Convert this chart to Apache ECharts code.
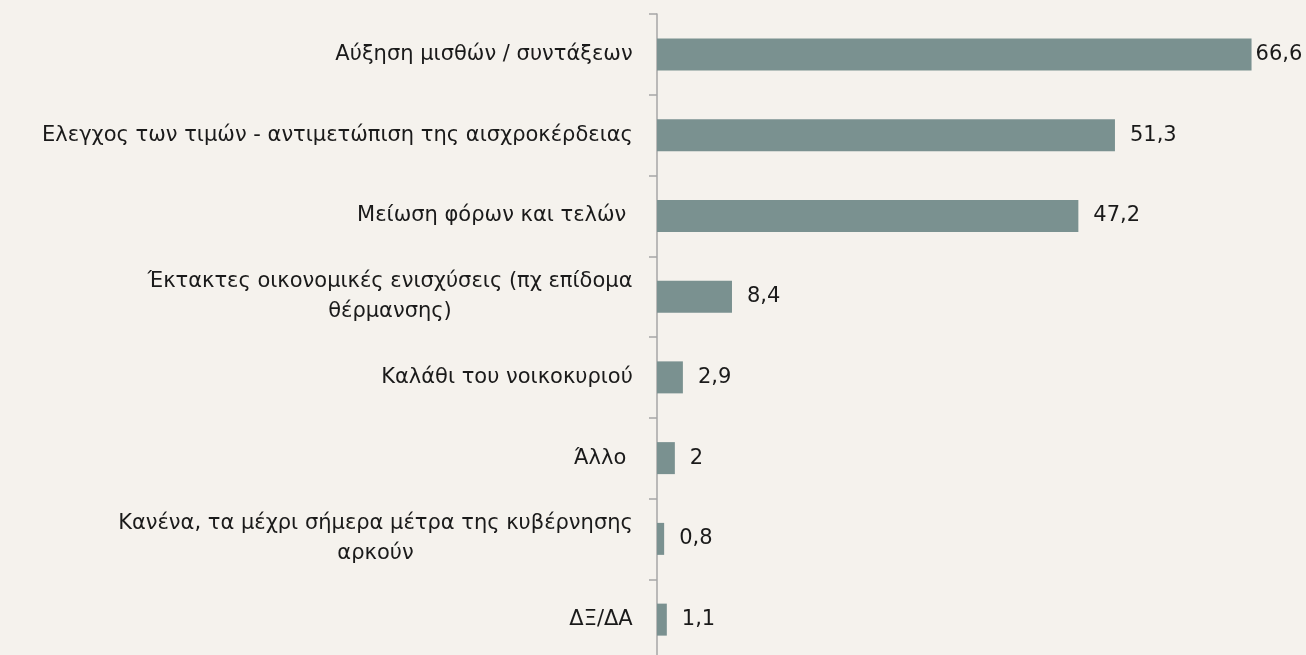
<!DOCTYPE html>
<html>
<head>
<meta charset="utf-8">
<script src="https://cdn.jsdelivr.net/npm/echarts@6/dist/echarts.min.js"></script>
<style>
html,body{margin:0;padding:0;background:#f5f2ed;}
#chart{width:1306px;height:655px;}
</style>
</head>
<body>
<div id="chart"></div>
<script>
const categories = [
  "Αύξηση μισθών / συντάξεων",
  "Ελεγχος των τιμών - αντιμετώπιση της αισχροκέρδειας",
  "Μείωση φόρων και τελών ",
  "Έκτακτες οικονομικές ενισχύσεις (πχ επίδομα\nθέρμανσης)",
  "Καλάθι του νοικοκυριού",
  "Άλλο ",
  "Κανένα, τα μέχρι σήμερα μέτρα της κυβέρνησης\nαρκούν",
  "ΔΞ/ΔΑ"
];
const values = [66.6, 51.3, 47.2, 8.4, 2.9, 2, 0.8, 1.1];

const FONT = '"DejaVu Sans", "Noto Sans", sans-serif';
const FS = 21;
const canvas = document.createElement('canvas');
const ctx = canvas.getContext('2d');
ctx.font = FS + 'px ' + FONT;
const rich = {};
categories.forEach((c, i) => {
  const lines = c.split('\n');
  let w = 0;
  lines.forEach(l => { w = Math.max(w, ctx.measureText(l).width); });
  rich['l' + i] = { width: Math.ceil(w), align: 'center', fontSize: FS, fontFamily: FONT, color: '#1a1a1a', lineHeight: 30 };
});

const chart = echarts.init(document.getElementById('chart'));
chart.setOption({
  backgroundColor: '#f5f2ed',
  animation: false,
  grid: { left: 657, width: 649, top: 14, height: 646, containLabel: false, outerBoundsMode: 'none' },
  xAxis: {
    type: 'value', min: 0, max: 72.7,
    show: false
  },
  yAxis: {
    type: 'category', inverse: true, data: categories,
    axisLine: { show: true, lineStyle: { color: '#a6a6a6', width: 1.5 } },
    axisTick: { show: true, length: 8, lineStyle: { color: '#a6a6a6', width: 1.5 } },
    axisLabel: {
      margin: 24,
      formatter: function (val, idx) {
        const i = categories.indexOf(val);
        return val.split('\n').map(l => '{l' + i + '|' + l + '}').join('\n');
      },
      rich: rich,
      fontSize: FS, fontFamily: FONT, color: '#1a1a1a'
    },
    splitLine: { show: false }
  },
  series: [{
    type: 'bar',
    data: values.map((v, i) => ({
      value: v,
      label: { distance: i === 0 ? 4 : 15 }
    })),
    barWidth: 32,
    itemStyle: { color: '#7a9190' },
    label: {
      show: true, position: 'right',
      fontSize: FS, fontFamily: FONT, color: '#1a1a1a',
      formatter: p => String(p.value).replace('.', ',')
    }
  }]
});
</script>
</body>
</html>
